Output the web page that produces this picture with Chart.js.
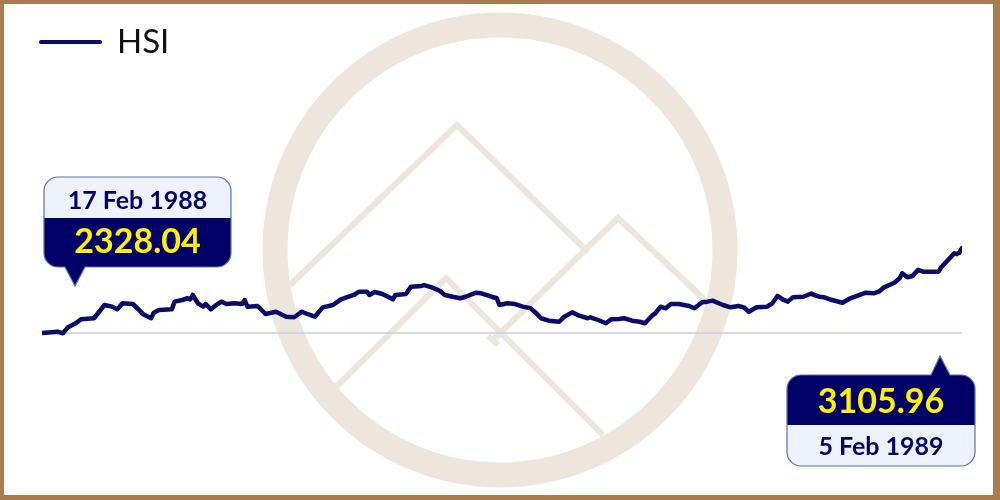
<!DOCTYPE html>
<html>
<head>
<meta charset="utf-8">
<script src="https://cdn.jsdelivr.net/npm/chart.js@4/dist/chart.umd.min.js"></script>
<style>
  html, body { margin: 0; padding: 0; background: #fff; }
  #wrap { position: relative; width: 1000px; height: 500px; }
  #frame { position: absolute; left: 0; top: 0; width: 1000px; height: 500px; box-sizing: border-box;
           border-style: solid; border-color: #A97C50; border-width: 4px 7px 5px 4px; pointer-events: none; }
  canvas { display: block; }
</style>
</head>
<body>
<div id="wrap">
  <canvas id="c" width="1000" height="500"></canvas>
  <div id="frame"></div>
</div>
<script>
// Series: day offset from 17 Feb 1988, HSI close
const seriesLabel = 'HSI';
const dayOffsets = [0, 6, 8, 10, 13, 15, 20, 24, 27, 29, 31, 35, 36, 39, 42, 43, 45, 50, 51, 54, 56, 57, 58,
  60, 62, 63, 65, 67, 69, 71, 74, 77, 78, 79, 83, 86, 90, 94, 97, 100, 102, 105, 108, 112, 115, 118,
  120, 122, 125, 126, 128, 131, 135, 136, 140, 142, 146, 147, 150, 153, 155, 158, 161, 163, 167, 169, 173, 175,
  176, 179, 182, 185, 188, 190, 192, 195, 199, 201, 204, 207, 210, 211, 214, 217, 219, 222, 224, 227, 230, 232,
  235, 236, 238, 240, 242, 245, 249, 251, 254, 256, 258, 262, 265, 268, 270, 272, 275, 279, 281, 283, 285, 287,
  289, 293, 296, 297, 299, 301, 304, 308, 311, 317, 320, 322, 324, 328, 330, 331, 333, 335, 337, 339, 345, 346,
  348, 351, 352, 353, 354];
const hsiValues = [2328.04, 2340, 2325, 2380, 2417, 2453, 2463, 2584, 2569, 2545, 2600, 2593, 2569, 2499, 2463, 2514, 2539, 2545, 2615, 2630, 2646, 2636, 2676,
  2600, 2569, 2593, 2545, 2584, 2615, 2593, 2600, 2593, 2630, 2569, 2575, 2502, 2523, 2477, 2472, 2523, 2502, 2477, 2563, 2584, 2636, 2660,
  2676, 2706, 2706, 2676, 2703, 2685, 2636, 2676, 2685, 2752, 2758, 2767, 2746, 2715, 2676, 2660, 2646, 2660, 2697, 2691, 2660, 2646,
  2584, 2600, 2593, 2569, 2554, 2514, 2463, 2441, 2431, 2477, 2517, 2484, 2463, 2472, 2447, 2417, 2453, 2456, 2463, 2441, 2431, 2417,
  2493, 2508, 2569, 2554, 2593, 2593, 2575, 2554, 2609, 2615, 2624, 2584, 2563, 2575, 2563, 2523, 2563, 2569, 2600, 2667, 2636, 2615,
  2655, 2660, 2690, 2676, 2660, 2655, 2630, 2605, 2646, 2697, 2691, 2706, 2746, 2788, 2829, 2874, 2838, 2850, 2905, 2889, 2889, 2929,
  2981, 3057, 3051, 3063, 3105.96];
const calloutDates = ['17 Feb 1988', '5 Feb 1989'];

const lineColor = '#0b0b69';
const navy = '#000066';
const lightFill = '#EEF2FC';
const boxStroke = '#5C6FB8';
const yellow = '#FFF200';
const wmColor = 'rgb(238,230,220)';

const points = dayOffsets.map((d, i) => ({ x: d, y: hsiValues[i] }));
const baseline = [{ x: dayOffsets[0], y: hsiValues[0] }, { x: dayOffsets[dayOffsets.length - 1], y: hsiValues[0] }];

const watermark = {
  id: 'watermark',
  beforeDatasetsDraw(chart) {
    const ctx = chart.ctx;
    ctx.save();
    ctx.strokeStyle = wmColor;
    ctx.lineWidth = 25;
    ctx.beginPath();
    ctx.arc(500, 250, 225, 0, Math.PI * 2);
    ctx.stroke();
    ctx.lineWidth = 6;
    ctx.lineCap = 'butt';
    ctx.lineJoin = 'miter';
    const paths = [
      [[290, 285], [457, 125], [588, 252]],
      [[493, 340], [618, 218], [706, 301]],
      [[335, 388], [446, 278], [603, 435]]
    ];
    paths.forEach(p => {
      ctx.beginPath();
      ctx.moveTo(p[0][0], p[0][1]);
      for (let i = 1; i < p.length; i++) ctx.lineTo(p[i][0], p[i][1]);
      ctx.stroke();
    });
    ctx.beginPath();
    ctx.moveTo(488, 336); ctx.lineTo(498, 345);
    ctx.stroke();
    ctx.restore();
  }
};

function calloutPath(ctx, x, y, w, h, r, ptr) {
  ctx.beginPath();
  ctx.moveTo(x + r, y);
  if (ptr && ptr.side === 'top') {
    ctx.lineTo(ptr.b1, y); ctx.lineTo(ptr.tx, ptr.ty); ctx.lineTo(ptr.b2, y);
  }
  ctx.lineTo(x + w - r, y);
  ctx.arcTo(x + w, y, x + w, y + r, r);
  ctx.lineTo(x + w, y + h - r);
  ctx.arcTo(x + w, y + h, x + w - r, y + h, r);
  if (ptr && ptr.side === 'bottom') {
    ctx.lineTo(ptr.b2, y + h); ctx.lineTo(ptr.tx, ptr.ty); ctx.lineTo(ptr.b1, y + h);
  }
  ctx.lineTo(x + r, y + h);
  ctx.arcTo(x, y + h, x, y + h - r, r);
  ctx.lineTo(x, y + r);
  ctx.arcTo(x, y, x + r, y, r);
  ctx.closePath();
}

function drawCallout(ctx, o) {
  ctx.save();
  calloutPath(ctx, o.x, o.y, o.w, o.h, 14, o.ptr);
  ctx.fillStyle = lightFill;
  ctx.fill();
  ctx.save();
  ctx.clip();
  ctx.fillStyle = navy;
  if (o.darkTop) ctx.fillRect(o.x - 2, o.y - 30, o.w + 4, o.div - o.y + 30);
  else ctx.fillRect(o.x - 2, o.div, o.w + 4, o.y + o.h - o.div + 30);
  ctx.restore();
  ctx.lineWidth = 1.2;
  ctx.strokeStyle = boxStroke;
  ctx.stroke();
  ctx.textAlign = 'center';
  ctx.textBaseline = 'alphabetic';
  const cx = o.x + o.w / 2;
  ctx.fillStyle = navy;
  ctx.font = 'bold 25px Lato';
  ctx.fillText(o.date, cx, o.dateY);
  ctx.fillStyle = yellow;
  ctx.font = 'bold 34px Lato';
  ctx.fillText(o.value, cx, o.valueY);
  ctx.restore();
}

const annotations = {
  id: 'annotations',
  afterDraw(chart) {
    const ctx = chart.ctx;
    const xs = chart.scales.x, ys = chart.scales.y;
    const ds = chart.data.datasets[0];
    ctx.save();
    ctx.strokeStyle = ds.borderColor;
    ctx.lineWidth = 4;
    ctx.lineCap = 'round';
    ctx.beginPath(); ctx.moveTo(41, 42); ctx.lineTo(100, 42); ctx.stroke();
    ctx.fillStyle = '#111';
    ctx.font = '33px Lato';
    ctx.textBaseline = 'alphabetic';
    ctx.textAlign = 'left';
    ctx.fillText(ds.label, 117, 53);
    ctx.restore();

    const n = hsiValues.length - 1;
    const p0 = { x: xs.getPixelForValue(dayOffsets[0]), y: ys.getPixelForValue(hsiValues[0]) };
    const pe = { x: xs.getPixelForValue(dayOffsets[n]), y: ys.getPixelForValue(hsiValues[n]) };

    drawCallout(ctx, {
      x: p0.x + 2, y: p0.y - 156, w: 187, h: 90, div: p0.y - 115, darkTop: false,
      ptr: { side: 'bottom', b1: p0.x + 23, b2: p0.x + 43, tx: p0.x + 33, ty: p0.y - 47 },
      date: calloutDates[0], value: hsiValues[0].toFixed(2),
      dateY: p0.y - 124, valueY: p0.y - 80
    });
    drawCallout(ctx, {
      x: pe.x - 175, y: pe.y + 127, w: 188, h: 91, div: pe.y + 177, darkTop: true,
      ptr: { side: 'top', b1: pe.x - 31, b2: pe.x - 12, tx: pe.x - 22, ty: pe.y + 108 },
      date: calloutDates[1], value: hsiValues[n].toFixed(2),
      dateY: pe.y + 207, valueY: pe.y + 165
    });
  }
};

new Chart(document.getElementById('c'), {
  type: 'line',
  data: {
    datasets: [
      { label: seriesLabel, data: points, borderColor: lineColor, borderWidth: 4.5, pointRadius: 0,
        tension: 0, fill: false, borderJoinStyle: 'round', borderCapStyle: 'round' },
      { label: 'base', data: baseline, borderColor: '#C9CAEB', borderWidth: 1.5, pointRadius: 0, fill: false }
    ]
  },
  options: {
    responsive: false,
    animation: false,
    devicePixelRatio: 1,
    layout: { padding: { left: 42, right: 38, top: 24, bottom: 24 } },
    plugins: { legend: { display: false }, tooltip: { enabled: false } },
    scales: {
      x: { type: 'linear', display: false, min: 0, max: 354 },
      y: { type: 'linear', display: false, min: 1019.3, max: 5156 }
    }
  },
  plugins: [watermark, annotations]
});
</script>
</body>
</html>
